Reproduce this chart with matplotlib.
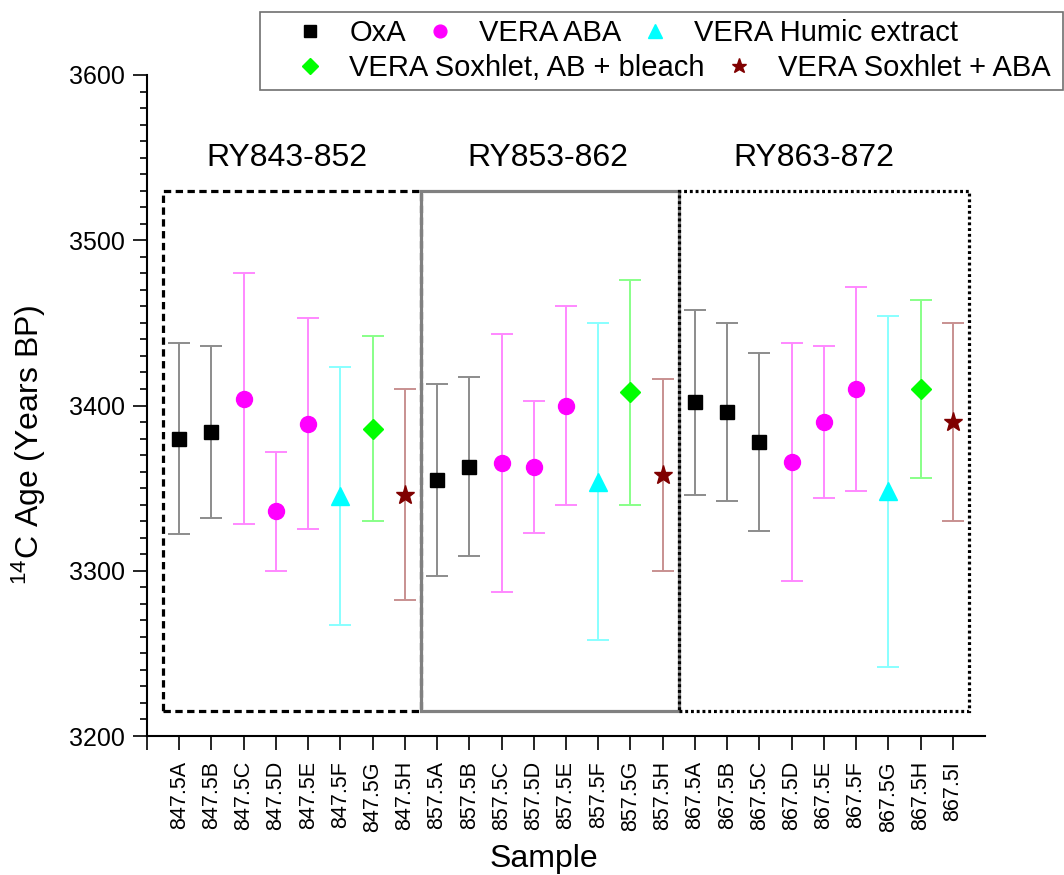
import numpy as np
import matplotlib
matplotlib.use('Agg')
import matplotlib.pyplot as plt
from matplotlib.patches import Rectangle

plt.rcParams['font.family'] = ['Liberation Sans', 'DejaVu Sans']
plt.rcParams['mathtext.fontset'] = 'custom'
plt.rcParams['mathtext.rm'] = 'Liberation Sans'
plt.rcParams['mathtext.default'] = 'regular'

# samples along the x axis
samples = ['847.5A', '847.5B', '847.5C', '847.5D', '847.5E', '847.5F', '847.5G', '847.5H',
           '857.5A', '857.5B', '857.5C', '857.5D', '857.5E', '857.5F', '857.5G', '857.5H',
           '867.5A', '867.5B', '867.5C', '867.5D', '867.5E', '867.5F', '867.5G', '867.5H', '867.5I']

# OxA
oxa_samples = ['847.5A', '847.5B', '857.5A', '857.5B', '867.5A', '867.5B', '867.5C']
oxa_age = [3380, 3384, 3355, 3363, 3402, 3396, 3378]
oxa_err = [58, 52, 58, 54, 56, 54, 54]

# VERA ABA
aba_samples = ['847.5C', '847.5D', '847.5E', '857.5C', '857.5D', '857.5E', '867.5D', '867.5E', '867.5F']
aba_age = [3404, 3336, 3389, 3365, 3363, 3400, 3366, 3390, 3410]
aba_err = [76, 36, 64, 78, 40, 60, 72, 46, 62]

# VERA Humic extract
hum_samples = ['847.5F', '857.5F', '867.5G']
hum_age = [3345, 3354, 3348]
hum_err = [78, 96, 106]

# VERA Soxhlet, AB + bleach
sab_samples = ['847.5G', '857.5G', '867.5H']
sab_age = [3386, 3408, 3410]
sab_err = [56, 68, 54]

# VERA Soxhlet + ABA
sxa_samples = ['847.5H', '857.5H', '867.5I']
sxa_age = [3346, 3358, 3390]
sxa_err = [64, 58, 60]

groups = ['RY843-852', 'RY853-862', 'RY863-872']
group_first = ['847.5A', '857.5A', '867.5A']
group_last = ['847.5H', '857.5H', '867.5I']
group_label_x = [4.35, 12.45, 20.7]

series = [
    ('OxA', oxa_samples, oxa_age, oxa_err, 's', 'black', '#8c8c8c', 10.5),
    ('VERA ABA', aba_samples, aba_age, aba_err, 'o', '#ff00ff', '#ff88ff', 11.5),
    ('VERA Humic extract', hum_samples, hum_age, hum_err, '^', '#00ffff', '#88ffff', 13),
    ('VERA Soxhlet, AB + bleach', sab_samples, sab_age, sab_err, 'D', '#00ff00', '#88ff88', 10.5),
    ('VERA Soxhlet + ABA', sxa_samples, sxa_age, sxa_err, '*', '#800000', '#c89090', 14),
]

pos = {s: i + 1 for i, s in enumerate(samples)}

fig = plt.figure(figsize=(10.64, 8.75), dpi=100)
ax = fig.add_axes([147/1064, 139/875, 838/1064, 661/875])

handles = []
for name, smp, age, err, mk, col, ecol, ms in series:
    x = [pos[s] for s in smp]
    ax.errorbar(x, age, yerr=err, fmt='none', ecolor=ecol, elinewidth=1.4,
                capsize=8, capthick=1.4, zorder=3)
    h, = ax.plot(x, age, ls='none', marker=mk, color=col, markersize=ms,
                 markeredgecolor=col, label=name, zorder=4)
    handles.append(h)

# group boxes
styles = [dict(ls=(0, (2.3, 1.4)), color='black', lw=2.3),
          dict(ls='-', color='#808080', lw=2.3),
          dict(ls=(0, (0.9, 0.9)), color='black', lw=2.3)]
box_lo, box_hi = 3215, 3530
for g, a, b, gx, st in zip(groups, group_first, group_last, group_label_x, styles):
    x0 = pos[a] - 0.5
    x1 = pos[b] + 0.5
    ax.add_patch(Rectangle((x0, box_lo), x1 - x0, box_hi - box_lo, fill=False, zorder=2, **st))
    ax.text(gx, 3550, g, ha='center', va='center', fontsize=23)

ax.set_xlim(0, 26)
ax.set_ylim(3200, 3600)
ax.set_xticks(range(0, len(samples) + 1))
ax.set_xticklabels([''] + samples, rotation=90, fontsize=15.5)
ax.set_yticks([3200, 3300, 3400, 3500, 3600])
ax.set_yticks(np.arange(3200, 3600, 10), minor=True)
ax.tick_params(axis='y', labelsize=18, length=10, width=1.2, direction='out', pad=6)
ax.tick_params(axis='y', which='minor', length=5, width=1.2)
ax.tick_params(axis='x', length=10, width=1.2, direction='out', pad=8)
for s in ['top', 'right']:
    ax.spines[s].set_visible(False)
for s in ['left', 'bottom']:
    ax.spines[s].set_linewidth(1.5)

ax.set_xlabel('Sample', fontsize=23)
ax.xaxis.set_label_coords(0.473, -0.163)
ax.set_ylabel('$^{14}$C Age (Years BP)', fontsize=23)
ax.yaxis.set_label_coords(-0.118, 0.44)

# legend: two rows inside one frame
fig.patches.append(Rectangle((260/1064, 1 - 90/875), (1063 - 260)/1064, 78/875,
                             transform=fig.transFigure, fill=False, edgecolor='#707070', lw=1.2))
leg_kw = dict(frameon=False, fontsize=21, handlelength=1.0, handletextpad=0.84,
              columnspacing=0.66, borderpad=0, borderaxespad=0, markerscale=0.8, loc='center left')
fig.legend(handles=handles[:3], ncol=3, bbox_to_anchor=(0.278, 1 - 33/875), **leg_kw)
fig.legend(handles=handles[3:], ncol=2, bbox_to_anchor=(0.278, 1 - 68/875), **leg_kw)

plt.savefig('out.png', dpi=100)
